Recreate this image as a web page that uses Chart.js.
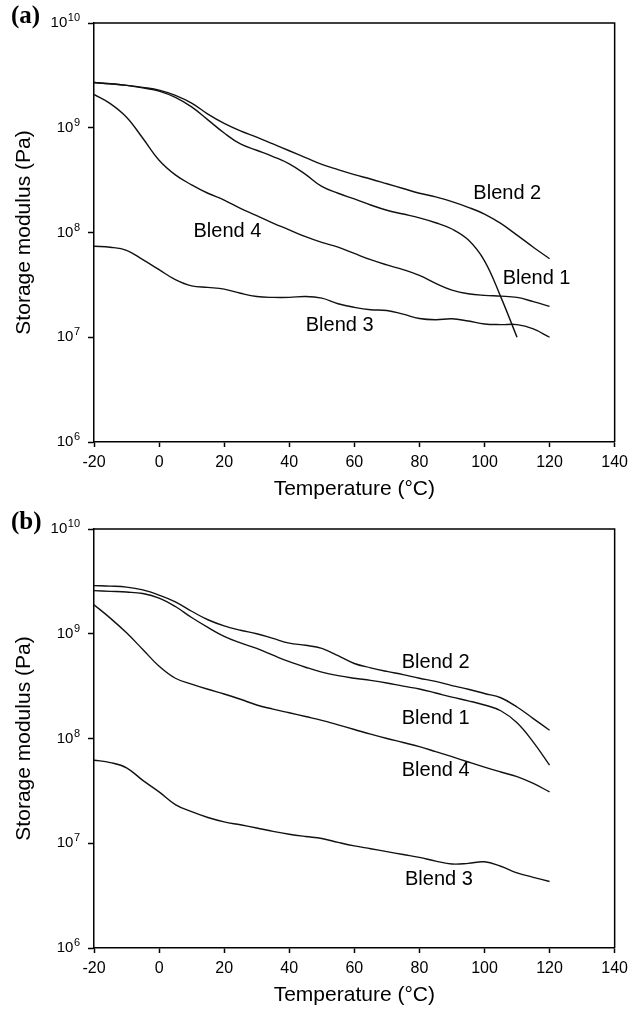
<!DOCTYPE html>
<html>
<head>
<meta charset="utf-8">
<title>Storage modulus vs temperature</title>
<script src="https://cdn.jsdelivr.net/npm/chart.js@4.4.1/dist/chart.umd.min.js"></script>
<style>
    html, body { margin: 0; padding: 0; background: #fff; }
    .panel { position: relative; width: 634px; }
    canvas { display: block; }
</style>
</head>
<body>
<div class="panel"><canvas id="chart-a" width="634" height="506"></canvas></div>
<div class="panel"><canvas id="chart-b" width="634" height="503"></canvas></div>
<script>
// --- Data (storage modulus in Pa, sampled every 5 °C) ---
const temps = [-20, -15, -10, -5, 0, 5, 10, 15, 20, 25, 30, 35, 40, 45, 50, 55, 60, 65, 70, 75, 80, 85, 90, 95, 100, 105, 110, 115, 120];
const tempTicks = [-20, 0, 20, 40, 60, 80, 100, 120, 140];
const modulusTicks = [1e6, 1e7, 1e8, 1e9, 1e10];

// panel (a)
const blend1A = [2.70e9, 2.63e9, 2.54e9, 2.40e9, 2.24e9, 1.95e9, 1.58e9, 1.19e9, 8.91e8, 7.00e8,
                 6.10e8, 5.31e8, 4.52e8, 3.59e8, 2.75e8, 2.37e8, 2.09e8, 1.83e8, 1.63e8, 1.50e8,
                 1.38e8, 1.24e8, 1.08e8, 8.51e7, 5.37e7, 2.43e7, 1.00e7, null, null];
const blend2A = [2.70e9, 2.63e9, 2.54e9, 2.43e9, 2.29e9, 2.04e9, 1.72e9, 1.35e9, 1.10e9, 9.33e8,
                 8.13e8, 7.00e8, 6.03e8, 5.19e8, 4.47e8, 3.98e8, 3.57e8, 3.24e8, 2.92e8, 2.63e8,
                 2.37e8, 2.19e8, 1.97e8, 1.74e8, 1.50e8, 1.22e8, 9.44e7, 7.24e7, 5.62e7];
const blend3A = [7.38e7, 7.24e7, 6.76e7, 5.50e7, 4.42e7, 3.55e7, 3.09e7, 2.99e7, 2.88e7, 2.63e7,
                 2.45e7, 2.40e7, 2.40e7, 2.45e7, 2.36e7, 2.09e7, 1.93e7, 1.83e7, 1.80e7, 1.66e7,
                 1.51e7, 1.47e7, 1.50e7, 1.43e7, 1.34e7, 1.32e7, 1.32e7, 1.20e7, 1.00e7];
const blend4A = [2.08e9, 1.70e9, 1.26e9, 7.94e8, 4.90e8, 3.55e8, 2.85e8, 2.37e8, 2.04e8, 1.70e8,
                 1.45e8, 1.23e8, 1.06e8, 9.12e7, 8.04e7, 7.24e7, 6.31e7, 5.50e7, 4.90e7, 4.42e7,
                 3.89e7, 3.27e7, 2.82e7, 2.60e7, 2.51e7, 2.47e7, 2.40e7, 2.19e7, 1.97e7];

// panel (b)
const blend1B = [2.58e9, 2.54e9, 2.50e9, 2.42e9, 2.19e9, 1.82e9, 1.43e9, 1.15e9, 9.44e8, 8.17e8,
                 7.24e8, 6.24e8, 5.41e8, 4.79e8, 4.30e8, 3.98e8, 3.76e8, 3.59e8, 3.39e8, 3.16e8,
                 2.97e8, 2.72e8, 2.48e8, 2.29e8, 2.09e8, 1.84e8, 1.41e8, 9.23e7, 5.57e7];
const blend2B = [2.88e9, 2.85e9, 2.79e9, 2.62e9, 2.34e9, 2.02e9, 1.64e9, 1.36e9, 1.19e9, 1.08e9,
                 1.00e9, 9.02e8, 8.13e8, 7.76e8, 7.24e8, 6.17e8, 5.20e8, 4.73e8, 4.37e8, 4.07e8,
                 3.76e8, 3.51e8, 3.20e8, 2.95e8, 2.69e8, 2.45e8, 2.00e8, 1.55e8, 1.20e8];
const blend3B = [6.21e7, 5.89e7, 5.25e7, 3.98e7, 3.09e7, 2.34e7, 2.00e7, 1.76e7, 1.60e7, 1.50e7,
                 1.40e7, 1.30e7, 1.22e7, 1.16e7, 1.11e7, 1.02e7, 9.44e6, 8.87e6, 8.32e6, 7.80e6,
                 7.33e6, 6.76e6, 6.34e6, 6.43e6, 6.65e6, 6.03e6, 5.22e6, 4.73e6, 4.31e6];
const blend4B = [1.89e9, 1.41e9, 1.02e9, 7.08e8, 4.90e8, 3.76e8, 3.31e8, 2.95e8, 2.66e8, 2.37e8,
                 2.09e8, 1.91e8, 1.76e8, 1.62e8, 1.49e8, 1.35e8, 1.22e8, 1.10e8, 1.00e8, 9.16e7,
                 8.36e7, 7.50e7, 6.71e7, 5.97e7, 5.33e7, 4.79e7, 4.32e7, 3.72e7, 3.09e7];

// curve labels, anchored in data coordinates (°C, Pa)
const curveLabelsA = [
    { text: "Blend 2", t: 107, v: 2.37e8 },
    { text: "Blend 1", t: 116, v: 3.66e7 },
    { text: "Blend 4", t: 21, v: 1.02e8 },
    { text: "Blend 3", t: 55.5, v: 1.30e7 }
];
const curveLabelsB = [
    { text: "Blend 2", t: 85, v: 5.37e8 },
    { text: "Blend 1", t: 85, v: 1.55e8 },
    { text: "Blend 4", t: 85, v: 4.99e7 },
    { text: "Blend 3", t: 86, v: 4.47e6 }
];

document.addEventListener("DOMContentLoaded", () => {
    const FONT = '"Liberation Sans", Arial, sans-serif';
    Chart.defaults.font.family = FONT;
    Chart.defaults.color = "#000";

    // --- Plugins ---
    // closes the plot box on the top and right sides
    const frameBox = {
        id: "frameBox",
        afterDraw(chart) {
            const { ctx, chartArea: a } = chart;
            ctx.save();
            ctx.strokeStyle = "#000";
            ctx.lineWidth = 1.5;
            ctx.beginPath();
            ctx.moveTo(a.left, a.top);
            ctx.lineTo(a.right, a.top);
            ctx.lineTo(a.right, a.bottom);
            ctx.stroke();
            ctx.restore();
        }
    };

    // y tick labels as 10 with a raised exponent, right-aligned next to the ticks
    const powerTicks = {
        id: "powerTicks",
        afterDraw(chart) {
            const { ctx, scales } = chart;
            const rightEdge = scales.y.right - 14;
            ctx.save();
            ctx.fillStyle = "#000";
            ctx.textAlign = "left";
            ctx.textBaseline = "middle";
            modulusTicks.forEach(v => {
                const y = scales.y.getPixelForValue(v);
                const exp = String(Math.round(Math.log10(v)));
                ctx.font = "11px " + FONT;
                const expW = ctx.measureText(exp).width;
                ctx.font = "15px " + FONT;
                const baseW = ctx.measureText("10").width;
                const x0 = rightEdge - expW - baseW - 0.5;
                ctx.fillText("10", x0, y);
                ctx.font = "11px " + FONT;
                ctx.fillText(exp, x0 + baseW + 0.5, y - 5);
            });
            ctx.restore();
        }
    };

    // curve names and the panel letter
    const curveNames = {
        id: "curveNames",
        afterDatasetsDraw(chart, args, opts) {
            const { ctx, scales } = chart;
            ctx.save();
            ctx.fillStyle = "#000";
            ctx.textAlign = "center";
            ctx.textBaseline = "middle";
            ctx.font = "20px " + FONT;
            opts.items.forEach(item => {
                ctx.fillText(item.text, scales.x.getPixelForValue(item.t), scales.y.getPixelForValue(item.v));
            });
            ctx.textAlign = "left";
            ctx.font = 'bold 25px "Liberation Serif", "Times New Roman", serif';
            ctx.fillText(opts.letter, 11, chart.chartArea.top - 6);
            ctx.restore();
        }
    };

    const makeSeries = (values) => temps.map((t, i) => ({ x: t, y: values[i] }));

    function buildPanel(canvasId, letter, seriesList, labels, xAxisHeight, titleGap) {
        const ctx = document.getElementById(canvasId);
        return new Chart(ctx, {
            type: "line",
            data: {
                datasets: seriesList.map(s => ({
                    label: s.name,
                    data: makeSeries(s.values),
                    borderColor: "#111",
                    borderWidth: 1.4,
                    pointRadius: 0,
                    tension: 0.4,
                    fill: false
                }))
            },
            options: {
                responsive: false,
                animation: false,
                devicePixelRatio: 1,
                layout: { padding: { top: 23, right: 16, left: 0, bottom: 0 } },
                plugins: {
                    legend: { display: false },
                    tooltip: { enabled: false },
                    curveNames: { items: labels, letter: letter }
                },
                scales: {
                    x: {
                        type: "linear",
                        min: -20,
                        max: 140,
                        afterBuildTicks: (scale) => { scale.ticks = tempTicks.map(v => ({ value: v })); },
                        afterFit: (scale) => { scale.height = xAxisHeight; },
                        grid: { drawOnChartArea: false, drawTicks: true, tickLength: 5, tickColor: "#000", tickWidth: 1.5 },
                        border: { display: true, color: "#000", width: 1.5 },
                        ticks: { padding: 6, font: { size: 16 }, maxRotation: 0 },
                        title: {
                            display: true,
                            text: "Temperature (\u00b0C)",
                            font: { size: 21 },
                            padding: { top: 0, bottom: titleGap }
                        }
                    },
                    y: {
                        type: "logarithmic",
                        min: 1e6,
                        max: 1e10,
                        afterBuildTicks: (scale) => { scale.ticks = modulusTicks.map(v => ({ value: v, major: true })); },
                        afterFit: (scale) => { scale.width = 94; },
                        grid: { drawOnChartArea: false, drawTicks: true, tickLength: 6, tickColor: "#000", tickWidth: 1.5 },
                        border: { display: true, color: "#000", width: 1.5 },
                        ticks: { display: false },
                        title: {
                            display: true,
                            text: "Storage modulus (Pa)",
                            font: { size: 21 },
                            padding: { top: 12, bottom: 0 }
                        }
                    }
                }
            },
            plugins: [frameBox, powerTicks, curveNames]
        });
    }

    // --- Panels ---
    buildPanel("chart-a", "(a)", [
        { name: "Blend 1", values: blend1A },
        { name: "Blend 2", values: blend2A },
        { name: "Blend 3", values: blend3A },
        { name: "Blend 4", values: blend4A }
    ], curveLabelsA, 64, 4);

    buildPanel("chart-b", "(b)", [
        { name: "Blend 1", values: blend1B },
        { name: "Blend 2", values: blend2B },
        { name: "Blend 3", values: blend3B },
        { name: "Blend 4", values: blend4B }
    ], curveLabelsB, 61, 1);
});
</script>
</body>
</html>
